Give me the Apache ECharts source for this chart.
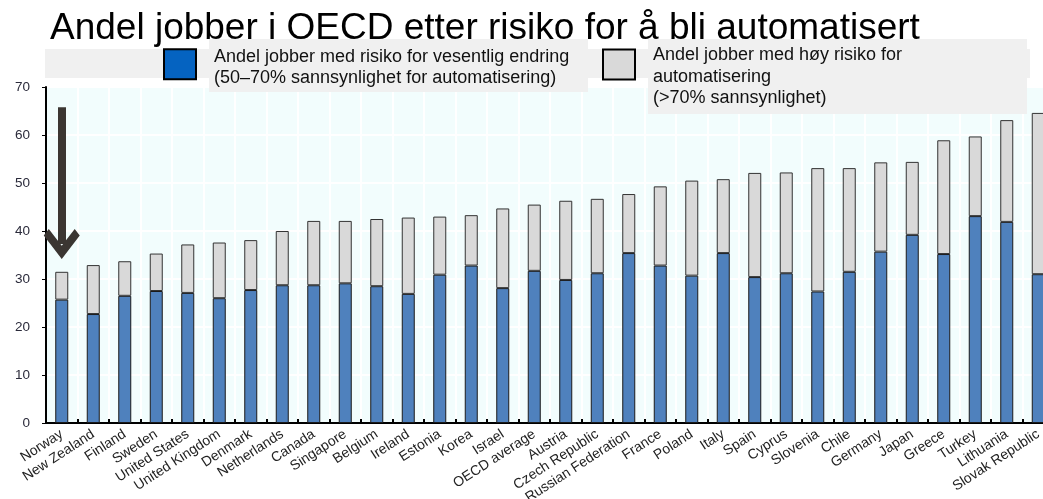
<!DOCTYPE html>
<html><head><meta charset="utf-8">
<script src="https://cdn.jsdelivr.net/npm/echarts@6/dist/echarts.min.js"></script>
<style>html,body{margin:0;padding:0;background:#fff}#c{width:1043px;height:499px}</style>
</head><body><div id="c"></div>
<script>
const categories = ['Norway','New Zealand','Finland','Sweden','United States','United Kingdom','Denmark','Netherlands','Canada','Singapore','Belgium','Ireland','Estonia','Korea','Israel','OECD average','Austria','Czech Republic','Russian Federation','France','Poland','Italy','Spain','Cyprus','Slovenia','Chile','Germany','Japan','Greece','Turkey','Lithuania','Slovak Republic'];
// share of jobs at risk of significant change (50–70%)
const significantChange = [25.7,22.7,26.5,27.5,27.1,26.0,27.7,28.7,28.7,29.1,28.5,26.9,30.9,32.8,28.1,31.7,29.8,31.2,35.4,32.8,30.7,35.4,30.4,31.2,27.4,31.5,35.7,39.2,35.2,43.1,41.9,31.0];
// total share (significant change + high risk)
const totalRisk = [31.5,32.9,33.7,35.3,37.2,37.6,38.1,40.0,42.1,42.1,42.5,42.8,43.0,43.3,44.7,45.5,46.3,46.7,47.7,49.3,50.5,50.8,52.1,52.2,53.1,53.1,54.3,54.4,58.9,59.7,63.1,64.6];
const highRisk = totalRisk.map((t, i) => +(t - significantChange[i]).toFixed(1));
const yTicks = [0,10,20,30,40,50,60,70];
const arrowFrom = 65.8, arrowTo = 37.3;

const nameA = 'Andel jobber med risiko for vesentlig endring\n(50–70% sannsynlighet for automatisering)';
const nameB = 'Andel jobber med høy risiko for\nautomatisering\n(>70% sannsynlighet)';
const FONT = "'Liberation Sans', Arial, sans-serif";

function legendFmt() {
  return name => '{s| }\n' + name.split('\n').map(l => '{t|' + l + '}').join('\n');
}
function legendText(spacer) {
  return {
    fontSize: 18, color: '#111', fontFamily: FONT,
    rich: {
      s: {fontSize: 2, lineHeight: spacer, fontFamily: FONT},
      t: {fontSize: 18, lineHeight: 21.5, color: '#111', fontFamily: FONT, padding: [0, 0, 0, 13]}
    }
  };
}

const chart = echarts.init(document.getElementById('c'), null, {renderer:'canvas'});
chart.setOption({
  animation: false,
  textStyle: {fontFamily: FONT},
  title: {
    text: 'Andel jobber i OECD etter risiko for å bli automatisert',
    left: 50, top: 10, z: 1, padding: 0,
    textStyle: {fontSize: 37, fontWeight: 'normal', color: '#000', fontFamily: FONT}
  },
  graphic: [
    {type:'rect', z: 3, silent:true, shape:{x:45, y:49, width:985, height:29}, style:{fill:'#f0f0f0'}},
    {type:'rect', z: 3, silent:true, shape:{x:209, y:39, width:379, height:53}, style:{fill:'#f0f0f0'}},
    {type:'rect', z: 3, silent:true, shape:{x:648, y:39, width:379, height:75}, style:{fill:'#f0f0f0'}}
  ],
  legend: [
    {
      data: [{name: nameA, itemStyle:{color:'#0563c1', borderColor:'#000', borderWidth:2}}],
      left: 163, top: 41.75, padding: 0, z: 5,
      icon: 'rect', itemWidth: 32, itemHeight: 30,
      selectedMode: false,
      formatter: legendFmt(),
      textStyle: legendText(7)
    },
    {
      data: [{name: nameB, itemStyle:{color:'#d9d9d9', borderColor:'#000', borderWidth:2}}],
      left: 602, top: 31.25, padding: 0, z: 5,
      icon: 'rect', itemWidth: 32, itemHeight: 30,
      selectedMode: false,
      formatter: legendFmt(),
      textStyle: legendText(25)
    }
  ],
  grid: {
    left: 46, top: 87, width: 1008, height: 336,
    outerBoundsMode: 'none', containLabel: false,
    show: true, backgroundColor: '#f2fdfd', borderColor: '#111', borderWidth: 1
  },
  xAxis: {
    type: 'category', data: categories, boundaryGap: true,
    axisLine: {lineStyle: {color: '#000', width: 2}},
    axisTick: {show: true, inside: true, length: 4, lineStyle: {color: '#000', width: 2}},
    splitLine: {show: true, lineStyle: {color: '#ffffff', width: 2}},
    axisLabel: {interval: 0, rotate: 33, fontSize: 14, color: '#222', margin: 10, fontFamily: FONT}
  },
  yAxis: {
    type: 'value', min: 0, max: 70, interval: 10,
    axisLine: {show: true, lineStyle: {color: '#000', width: 2}},
    axisTick: {show: true, length: 4, lineStyle: {color: '#000'}},
    splitLine: {show: true, lineStyle: {color: '#ffffff', width: 2}},
    axisLabel: {fontSize: 13.5, color: '#2a2a3a', margin: 16, fontFamily: FONT,
      formatter: v => yTicks.includes(v) ? String(v) : ''}
  },
  series: [
    {
      name: nameA, type: 'bar', stack: 'r', data: significantChange, barWidth: 13,
      itemStyle: {color: '#4f81bd', borderColor: '#1a1a1a', borderWidth: 1},
      markLine: {
        silent: true, animation: false,
        label: {show: false},
        lineStyle: {color: '#3b3632', width: 8, type: 'solid'},
        symbol: ['none', 'path://M50,0 L100,50 L86,64 L50,28 L14,64 L0,50 Z'],
        symbolSize: [36, 30],
        data: [[{coord: [categories[0], arrowFrom]}, {coord: [categories[0], arrowTo]}]]
      }
    },
    {
      name: nameB, type: 'bar', stack: 'r', data: highRisk, barWidth: 13,
      itemStyle: {color: '#d9d9d9', borderColor: '#333', borderWidth: 1}
    }
  ]
});
</script></body></html>
